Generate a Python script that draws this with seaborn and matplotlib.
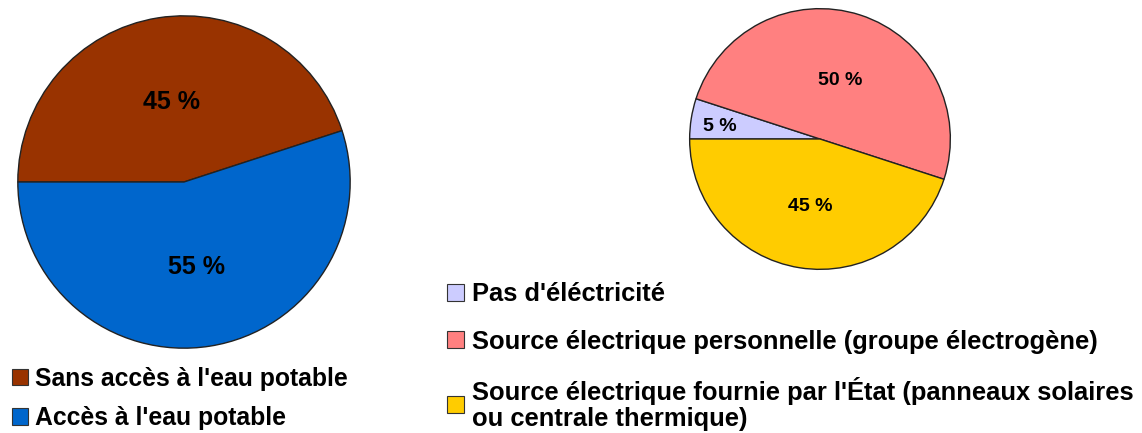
import matplotlib
matplotlib.use("Agg")
import matplotlib.pyplot as plt
from matplotlib.patches import Patch
from matplotlib.transforms import offset_copy
import seaborn as sns
import numpy as np

sns.set_theme(style="white")
plt.rcParams['font.family'] = ['Liberation Sans', 'DejaVu Sans']
plt.rcParams['text.color'] = 'black'

# Data
water_labels = ["Sans accès à l'eau potable", "Accès à l'eau potable"]
water_values = [45, 55]
water_colors = ["#993300", "#0066CC"]

elec_labels = ["Pas d'éléctricité",
               "Source électrique personnelle (groupe électrogène)",
               "Source électrique fournie par l'État (panneaux solaires\nou centrale thermique)"]
elec_values = [5, 50, 45]
elec_colors = ["#CCCCFF", "#FF8080", "#FFCC00"]

W, H = 1142, 433
fig = plt.figure(figsize=(W / 100, H / 100), dpi=100)

def px_axes(x0, y0, x1, y1):
    return fig.add_axes([x0 / W, 1 - y1 / H, (x1 - x0) / W, (y1 - y0) / H])

ax1 = px_axes(17, 15, 351, 349)
w1 = ax1.pie(water_values, colors=water_colors, startangle=180, counterclock=False,
             wedgeprops=dict(edgecolor="#222222", linewidth=1.0))[0]
ax1.set_aspect("equal")
ax1.set_xlim(-1.005, 1.005); ax1.set_ylim(-1.005, 1.005)
tr1 = offset_copy(ax1.transData, fig=fig, x=0, y=-2.5, units='dots')
for w, v in zip(w1, water_values):
    ang = np.deg2rad((w.theta1 + w.theta2) / 2)
    ax1.text(0.5 * np.cos(ang), 0.5 * np.sin(ang), f"{v} %", ha="center", va="center",
             fontsize=18, fontweight="bold", color="black", transform=tr1)

ax2 = px_axes(689, 8, 951, 270)
w2 = ax2.pie(elec_values, colors=elec_colors, startangle=180, counterclock=False,
             wedgeprops=dict(edgecolor="#222222", linewidth=1.0))[0]
ax2.set_aspect("equal")
ax2.set_xlim(-1.005, 1.005); ax2.set_ylim(-1.005, 1.005)
tr2 = offset_copy(ax2.transData, fig=fig, x=0, y=-3, units='dots')
dists = [0.78, 0.5, 0.5]
for w, v, d in zip(w2, elec_values, dists):
    ang = np.deg2rad((w.theta1 + w.theta2) / 2)
    ax2.text(d * np.cos(ang), d * np.sin(ang), f"{v} %", ha="center", va="center",
             fontsize=14, fontweight="bold", color="black", transform=tr2)

h1 = [Patch(facecolor=c, edgecolor="#333333", linewidth=0.8) for c in water_colors]
fig.legend(h1, water_labels, loc="upper left", bbox_to_anchor=(2 / W, 1 - 357 / H),
           frameon=False, prop=dict(size=17.8, weight="bold"), handlelength=0.65,
           handleheight=0.65, handletextpad=0.3, labelspacing=0.62, borderaxespad=0,
           labelcolor="black")

h2 = [Patch(facecolor=c, edgecolor="#333333", linewidth=0.8) for c in elec_colors]
leg2 = fig.legend(h2, elec_labels, loc="upper left", bbox_to_anchor=(437 / W, 1 - 272 / H),
                  frameon=False, prop=dict(size=18.4, weight="bold"), handlelength=0.65,
                  handleheight=0.65, handletextpad=0.3, labelspacing=0.92, borderaxespad=0,
                  labelcolor="black")
for t in leg2.get_texts():
    t.set_linespacing(1.08)

fig.savefig("out.png", dpi=100, facecolor="white")
